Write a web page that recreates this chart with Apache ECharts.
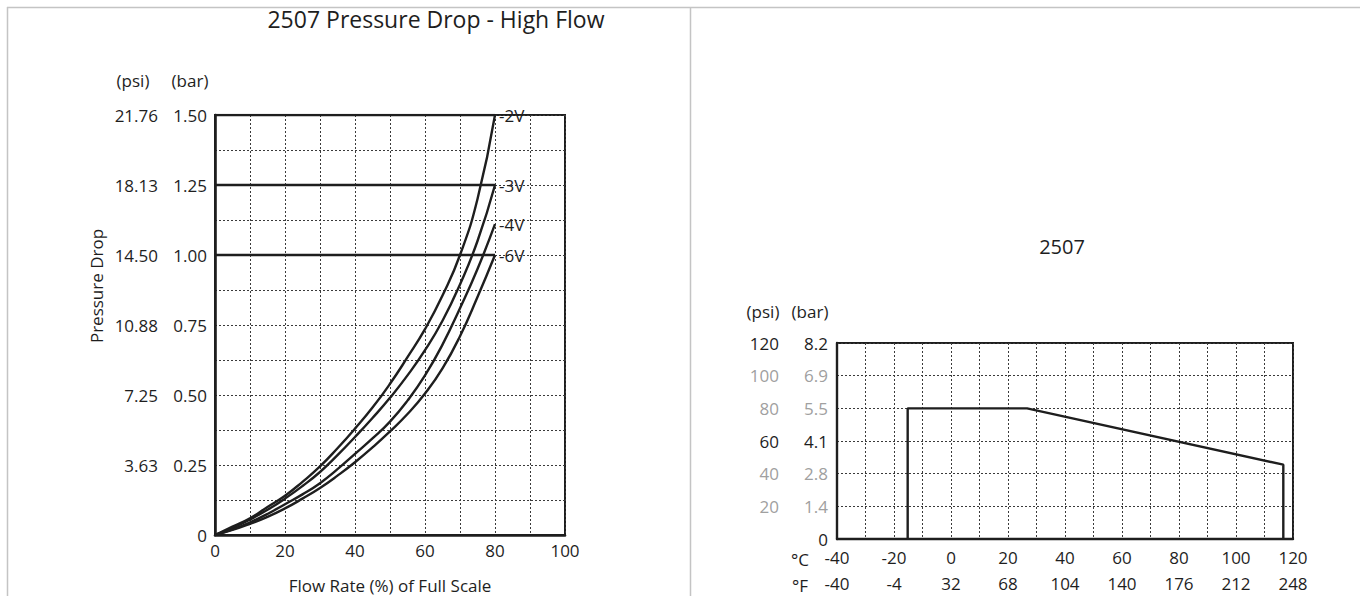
<!DOCTYPE html>
<html>
<head>
<meta charset="utf-8">
<script src="https://cdn.jsdelivr.net/npm/echarts@6/dist/echarts.min.js"></script>
<style>
  html, body { margin: 0; padding: 0; background: #fff; }
  #chart { width: 1360px; height: 596px; }
</style>
</head>
<body>
<div id="chart"></div>
<script>
// ---------------- DATA ----------------
// Left chart: Pressure drop (bar) vs flow rate (% of full scale)
const flowPoints = [0, 5, 10, 15, 20, 25, 30, 35, 40, 45, 50, 55, 60, 65, 70, 75, 80];
const curve2V = [0, 0.03, 0.06, 0.10, 0.14, 0.19, 0.245, 0.31, 0.38, 0.455, 0.54, 0.635, 0.735, 0.855, 1.00, 1.20, 1.50];
const curve3V = [0, 0.025, 0.055, 0.09, 0.13, 0.175, 0.225, 0.285, 0.35, 0.418, 0.49, 0.57, 0.66, 0.765, 0.895, 1.05, 1.25];
const curve4V = [0, 0.02, 0.045, 0.075, 0.11, 0.145, 0.185, 0.235, 0.29, 0.345, 0.405, 0.48, 0.57, 0.68, 0.81, 0.95, 1.11];
const curve6V = [0, 0.018, 0.04, 0.065, 0.095, 0.13, 0.168, 0.212, 0.26, 0.313, 0.37, 0.432, 0.505, 0.595, 0.71, 0.85, 1.00];
const curveNames = ['-2V', '-3V', '-4V', '-6V'];
const levelValues = [1.50, 1.25, 1.00];   // horizontal max-drop lines (bar)
const levelEndFlow = 80;                   // they run from 0 to this flow

const leftBarTicks = [0, 0.25, 0.5, 0.75, 1.0, 1.25, 1.5];
const leftBarLabels = ['0', '0.25', '0.50', '0.75', '1.00', '1.25', '1.50'];
const leftPsiLabels = ['', '3.63', '7.25', '10.88', '14.50', '18.13', '21.76'];

// Right chart: pressure (psi) vs temperature (°C)
const tempC = [-15.2, -15.2, 26.7, 116.6, 116.6];
const pressurePsi = [0, 80, 80, 45.5, 0];

const rightPsiTicks = [0, 20, 40, 60, 80, 100, 120];
const rightPsiLabels = ['', '20', '40', '60', '80', '100', '120'];
const rightBarLabels = ['0', '1.4', '2.8', '4.1', '5.5', '6.9', '8.2'];
const tempTicksC = [-40, -20, 0, 20, 40, 60, 80, 100, 120];
const tempLabelsF = ['-40', '-4', '32', '68', '104', '140', '176', '212', '248'];

// ---------------- STYLE / BUILD ----------------
const FONT = '"Open Sans", Roboto, sans-serif';
const FS = 17;
const INK = '#1e1e1e';
const GRAYTXT = '#a0a0a0';
const darkRightTicks = [0, 60, 120];
const gridLine = { show: true, lineStyle: { type: [2, 2], color: '#3a3a3a', width: 1 } };

function lookup(ticks, labels, v) {
  for (let i = 0; i < ticks.length; i++) {
    if (Math.abs(ticks[i] - v) < 1e-6) return labels[i];
  }
  return '';
}
function zip(xs, ys) { return xs.map((x, i) => [x, ys[i]]); }

const curves = [curve2V, curve3V, curve4V, curve6V];
const series = [];
curves.forEach((c, i) => {
  series.push({
    type: 'line', name: curveNames[i], xAxisIndex: 0, yAxisIndex: 0,
    data: zip(flowPoints, c), smooth: 0.5,
    showSymbol: false, symbol: 'none',
    lineStyle: { color: INK, width: 2.4 },
    endLabel: { show: true, formatter: '{a}', color: INK, fontSize: FS, fontFamily: FONT, distance: 4 },
    z: 5
  });
});
levelValues.forEach((lv) => {
  series.push({
    type: 'line', xAxisIndex: 0, yAxisIndex: 0,
    data: [[0, lv], [levelEndFlow, lv]],
    showSymbol: false, symbol: 'none',
    lineStyle: { color: INK, width: 2.6 }, z: 4
  });
});
series.push({
  type: 'line', xAxisIndex: 1, yAxisIndex: 2,
  data: zip(tempC, pressurePsi),
  showSymbol: false, symbol: 'none',
  lineStyle: { color: INK, width: 2.4 }, z: 5
});

function rightLabel(labels) {
  return function (v) {
    const t = lookup(rightPsiTicks, labels, v);
    if (t === '') return '';
    const dark = darkRightTicks.some(d => Math.abs(d - v) < 1e-6);
    return dark ? '{d|' + t + '}' : '{g|' + t + '}';
  };
}
const richLbl = {
  d: { color: INK, fontSize: FS, fontFamily: FONT },
  g: { color: GRAYTXT, fontSize: FS, fontFamily: FONT }
};
function txt(x, y, text, size, extra) {
  return Object.assign({ type: 'text', x: x, y: y, silent: true,
    style: { text: text, fontSize: size, fontFamily: FONT, fill: INK, textAlign: 'center', textVerticalAlign: 'middle' } }, extra || {});
}

const option = {
  animation: false,
  backgroundColor: '#fff',
  textStyle: { fontFamily: FONT },
  grid: [
    { left: 215, top: 115, width: 350, height: 420, show: true, borderColor: INK, borderWidth: 2, containLabel: false, outerBoundsMode: 'none' },
    { left: 837, top: 343, width: 456, height: 196, show: true, borderColor: INK, borderWidth: 2, containLabel: false, outerBoundsMode: 'none' }
  ],
  xAxis: [
    {
      gridIndex: 0, type: 'value', min: 0, max: 100, interval: 10,
      axisLine: { show: true, onZero: false, lineStyle: { color: INK, width: 2.6 } },
      axisTick: { show: false },
      splitLine: gridLine,
      axisLabel: { formatter: v => (v % 20 === 0 ? String(v) : ''), margin: 7, fontSize: FS, color: INK, fontFamily: FONT, showMinLabel: true, showMaxLabel: true },
      name: 'Flow Rate (%) of Full Scale', nameLocation: 'middle', nameGap: 42,
      nameTextStyle: { fontSize: FS, color: INK, fontFamily: FONT }
    },
    {
      gridIndex: 1, type: 'value', min: -40, max: 120, interval: 10,
      axisLine: { show: true, onZero: false, lineStyle: { color: INK, width: 2.4 } },
      axisTick: { show: false },
      splitLine: gridLine,
      axisLabel: { formatter: v => lookup(tempTicksC, tempTicksC.map(String), v), margin: 10, fontSize: FS, color: INK, fontFamily: FONT, showMinLabel: true, showMaxLabel: true }
    },
    {
      gridIndex: 1, type: 'value', min: -40, max: 120, interval: 10, position: 'bottom', offset: 26,
      axisLine: { show: false }, axisTick: { show: false }, splitLine: { show: false },
      axisLabel: { formatter: v => lookup(tempTicksC, tempLabelsF, v), margin: 10, fontSize: FS, color: INK, fontFamily: FONT, showMinLabel: true, showMaxLabel: true }
    }
  ],
  yAxis: [
    {
      gridIndex: 0, type: 'value', min: 0, max: 1.5, interval: 0.125, position: 'left',
      axisLine: { show: true, onZero: false, lineStyle: { color: INK, width: 2.6 } },
      axisTick: { show: false },
      splitLine: gridLine,
      axisLabel: { formatter: v => lookup(leftBarTicks, leftBarLabels, v), margin: 8, fontSize: FS, color: INK, fontFamily: FONT, showMinLabel: true, showMaxLabel: true }
    },
    {
      gridIndex: 0, type: 'value', min: 0, max: 1.5, interval: 0.125, position: 'left',
      axisLine: { show: false }, axisTick: { show: false }, splitLine: { show: false },
      axisLabel: { formatter: v => lookup(leftBarTicks, leftPsiLabels, v), margin: 57, fontSize: FS, color: INK, fontFamily: FONT, showMinLabel: true, showMaxLabel: true }
    },
    {
      gridIndex: 1, type: 'value', min: 0, max: 120, interval: 20, position: 'left',
      axisLine: { show: true, onZero: false, lineStyle: { color: INK, width: 2.4 } },
      axisTick: { show: false },
      splitLine: gridLine,
      axisLabel: { formatter: rightLabel(rightBarLabels), rich: richLbl, margin: 9, showMinLabel: true, showMaxLabel: true }
    },
    {
      gridIndex: 1, type: 'value', min: 0, max: 120, interval: 20, position: 'left',
      axisLine: { show: false }, axisTick: { show: false }, splitLine: { show: false },
      axisLabel: { formatter: rightLabel(rightPsiLabels), rich: richLbl, margin: 58, showMinLabel: true, showMaxLabel: true }
    }
  ],
  graphic: [
    { type: 'line', shape: { x1: 7, y1: 7.5, x2: 1360, y2: 7.5 }, style: { stroke: '#c4c4c4', lineWidth: 1.5 }, silent: true },
    { type: 'line', shape: { x1: 7.5, y1: 7, x2: 7.5, y2: 596 }, style: { stroke: '#c4c4c4', lineWidth: 1.5 }, silent: true },
    { type: 'line', shape: { x1: 690.5, y1: 7, x2: 690.5, y2: 596 }, style: { stroke: '#c4c4c4', lineWidth: 1.5 }, silent: true },
    txt(436, 19, '2507 Pressure Drop - High Flow', 23),
    txt(1062, 246, '2507', 20),
    txt(96, 286, 'Pressure Drop', FS, { rotation: Math.PI / 2 }),
    txt(133, 80, '(psi)', FS),
    txt(190, 80, '(bar)', FS),
    txt(763, 311, '(psi)', FS),
    txt(810, 311, '(bar)', FS),
    txt(800, 559, '°C', FS),
    txt(800, 585, '°F', FS)
  ],
  series: series
};

const chart = echarts.init(document.getElementById('chart'), null, { renderer: 'svg' });
chart.setOption(option);
</script>
</body>
</html>
